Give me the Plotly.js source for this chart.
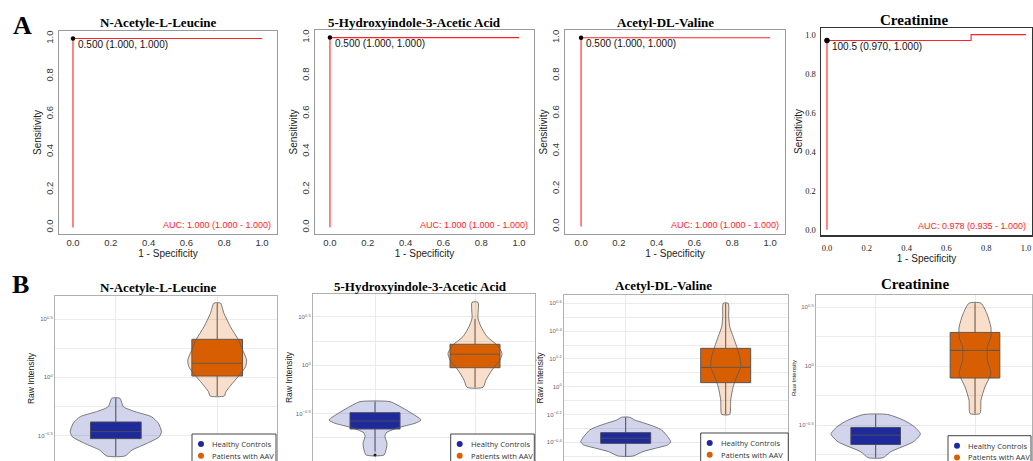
<!DOCTYPE html>
<html><head><meta charset="utf-8">
<script src="https://cdn.plot.ly/plotly-3.0.1.min.js"></script>
<style>html,body{margin:0;padding:0;background:#fff;overflow:hidden}#chart{width:1033px;height:461px}</style>
</head><body><div id="chart"></div>
<script>
// ---------------- DATA ----------------
const metabolites = ['N-Acetyle-L-Leucine', '5-Hydroxyindole-3-Acetic Acid', 'Acetyl-DL-Valine', 'Creatinine'];
const groups = ['Healthy Controls', 'Patients with AAV'];

// ROC curves (x = 1 - Specificity, y = Sensitivity)
const rocFpr = [[0, 0, 1], [0, 0, 1], [0, 0, 1], [0, 0, 0.724, 0.724, 1]];
const rocTpr = [[0, 1, 1], [0, 1, 1], [0, 1, 1], [0, 0.97, 0.97, 1, 1]];
const bestFpr = [0, 0, 0, 0];
const bestTpr = [1, 1, 1, 0.97];
const bestLabels = ['0.500 (1.000, 1.000)', '0.500 (1.000, 1.000)', '0.500 (1.000, 1.000)', '100.5 (0.970, 1.000)'];
const aucLabels = ['AUC: 1.000 (1.000 - 1.000)', 'AUC: 1.000 (1.000 - 1.000)', 'AUC: 1.000 (1.000 - 1.000)', 'AUC: 0.978 (0.935 - 1.000)'];
const rocTicks = [0, 0.2, 0.4, 0.6, 0.8, 1.0];
const rocTickText = ['0.0', '0.2', '0.4', '0.6', '0.8', '1.0'];

// Violin outlines: log10(raw intensity) levels and density half-widths
const hcLevels = [
  [-0.180, -0.253, -0.295, -0.338, -0.395, -0.467, -0.510, -0.567, -0.625, -0.676],
  [-0.376, -0.420, -0.480, -0.566, -0.600, -0.635, -0.669, -0.700, -0.738, -0.807, -0.876, -0.928],
  [-0.220, -0.240, -0.263, -0.288, -0.312, -0.360, -0.396, -0.419, -0.443, -0.468, -0.499],
  [-0.408, -0.456, -0.512, -0.574, -0.639, -0.724, -0.774]
];
const hcWidths = [
  [0.04, 0.075, 0.19, 0.35, 0.42, 0.45, 0.43, 0.31, 0.16, 0.09],
  [0.15, 0.24, 0.34, 0.46, 0.40, 0.27, 0.17, 0.11, 0.10, 0.12, 0.11, 0.09],
  [0.04, 0.09, 0.19, 0.29, 0.36, 0.42, 0.45, 0.42, 0.30, 0.17, 0.075],
  [0.12, 0.28, 0.39, 0.45, 0.38, 0.15, 0.075]
];
const paLevels = [
  [0.636, 0.550, 0.435, 0.320, 0.235, 0.149, 0.091, 0.020, -0.052, -0.124, -0.161],
  [0.651, 0.486, 0.399, 0.296, 0.210, 0.124, 0.055, -0.049, -0.152, -0.228],
  [0.600, 0.504, 0.432, 0.360, 0.288, 0.216, 0.144, 0.072, 0.000, -0.096, -0.199],
  [0.535, 0.445, 0.332, 0.248, 0.163, 0.051, -0.062, -0.175, -0.287, -0.400]
];
const paWidths = [
  [0.033, 0.066, 0.13, 0.21, 0.25, 0.29, 0.28, 0.22, 0.15, 0.086, 0.07],
  [0.03, 0.03, 0.06, 0.12, 0.22, 0.27, 0.25, 0.17, 0.11, 0.08],
  [0.025, 0.03, 0.04, 0.075, 0.11, 0.14, 0.15, 0.11, 0.075, 0.05, 0.04],
  [0.06, 0.12, 0.16, 0.16, 0.125, 0.125, 0.16, 0.10, 0.06, 0.05]
];

// Box statistics (log10 raw intensity)
const hcQ1 = [-0.527, -0.659, -0.408, -0.662];
const hcMedian = [-0.467, -0.576, -0.371, -0.583];
const hcQ3 = [-0.384, -0.490, -0.331, -0.518];
const hcLow = [-0.676, -0.893, -0.499, -0.774];
const hcHigh = [-0.180, -0.376, -0.220, -0.408];
const hcOutliers = [[], [-0.928], [], []];
const paQ1 = [0.011, -0.025, 0.029, -0.099];
const paMedian = [0.120, 0.114, 0.139, 0.135];
const paQ3 = [0.326, 0.217, 0.276, 0.287];
const paLow = [-0.161, -0.228, -0.199, -0.400];
const paHigh = [0.636, 0.479, 0.600, 0.535];

// Violin y-axis ticks (log10 exponents) and minor grid positions
const vTickVals = [
  [-0.5, 0, 0.5],
  [-1, -0.5, 0, 0.5],
  [-0.4, -0.2, 0, 0.2, 0.4, 0.6],
  [-0.5, 0, 0.5]
];
const vTickText = [
  ['10<sup>−0.5</sup>', '10<sup>0</sup>', '10<sup>0.5</sup>'],
  ['10<sup>−1</sup>', '10<sup>−0.5</sup>', '10<sup>0</sup>', '10<sup>0.5</sup>'],
  ['10<sup>−0.4</sup>', '10<sup>−0.2</sup>', '10<sup>0</sup>', '10<sup>0.2</sup>', '10<sup>0.4</sup>', '10<sup>0.6</sup>'],
  ['10<sup>−0.5</sup>', '10<sup>0</sup>', '10<sup>0.5</sup>']
];
const vMinorVals = [
  [-0.75, -0.25, 0.25],
  [-0.75, -0.25, 0.25],
  [-0.5, -0.3, -0.1, 0.1, 0.3, 0.5],
  [-0.75, -0.25, 0.25]
];

// ---------------- STYLE / LAYOUT ----------------
const W = 1033, H = 461;
const SANS = 'Liberation Sans, Arial, sans-serif';
const SERIF = 'Liberation Serif, Times New Roman, serif';
const hcColor = '#1f2a9a', paColor = '#d95f02';
const hcFill = 'rgba(31,42,154,0.2)', paFill = 'rgba(217,95,2,0.2)';
const rocRed = '#ff2424';
const fx = p => p / W, fy = p => 1 - p / H;

const rocBox = [[59, 277, 31, 234], [315, 534, 30, 234], [565, 785, 30, 234], [821, 1032, 28, 235]];
const rocXR = [[-0.074, 1.079], [-0.079, 1.079], [-0.085, 1.079], [-0.03, 1.03]];
const rocYR = [[-0.035, 1.04], [-0.035, 1.04], [-0.04, 1.041], [-0.027, 1.034]];
const vBox = [[55, 277, 296], [313, 535, 294], [564, 788, 295], [816, 1032, 295]];
const vXR = [[-0.6, 1.59], [-0.62, 1.6], [-0.617, 1.623], [-0.601, 1.574]];
const vYR = [[-0.719, 0.698], [-0.990, 0.737], [-0.535, 0.660], [-0.802, 0.604]];
const legBox = [[192, 276, 434], [450.7, 534.3, 434], [700.7, 788.3, 433], [948, 1031, 435.7]];
const titleA = [[157.5, 22.7], [414, 22], [665.5, 22], [913.7, 20]];
const titleB = [[157.7, 287.7], [420, 286], [663, 285.7], [914.5, 284]];

const traces = [];
const layout = {
  width: W, height: H,
  margin: {l: 0, r: 0, t: 0, b: 0},
  paper_bgcolor: '#fff', plot_bgcolor: '#fff',
  showlegend: false,
  annotations: [], shapes: []
};

function outline(levels, widths) {
  const xs = [], ys = [];
  for (let k = 0; k < levels.length; k++) { xs.push(widths[k]); ys.push(levels[k]); }
  for (let k = levels.length - 1; k >= 0; k--) { xs.push(-widths[k]); ys.push(levels[k]); }
  xs.push(widths[0]); ys.push(levels[0]);
  return {xs, ys};
}

for (let i = 0; i < 4; i++) {
  // ---- ROC panel ----
  const n = i + 1, sx = n === 1 ? '' : String(n);
  const xa = 'x' + sx, ya = 'y' + sx;
  const b = rocBox[i];
  const last = i === 3;
  traces.push({x: rocFpr[i], y: rocTpr[i], xaxis: xa, yaxis: ya, mode: 'lines',
    line: {color: rocRed, width: 1.1}, hoverinfo: 'skip', showlegend: false});
  traces.push({x: [bestFpr[i]], y: [bestTpr[i]], xaxis: xa, yaxis: ya, mode: 'markers',
    marker: {color: '#000', size: last ? 5.5 : 4.5}, hoverinfo: 'skip', showlegend: false});
  const tickFont = last ? {family: SERIF, size: 8.5, color: '#222'} : {family: SANS, size: 9.5, color: '#333'};
  const lineCol = last ? '#333' : '#9a9a9a';
  layout['xaxis' + sx] = {
    domain: [fx(b[0]), fx(b[1])], anchor: ya, range: rocXR[i],
    tickmode: 'array', tickvals: rocTicks, ticktext: rocTickText, ticks: '',
    showgrid: false, zeroline: false, showline: true, mirror: true,
    linecolor: lineCol, linewidth: last ? 1.5 : 1, tickfont: tickFont, automargin: false,
    ticklabelstandoff: last ? 4 : 0,
    title: {text: '1 - Specificity', font: {family: SANS, size: 10, color: '#222'}, standoff: 0}
  };
  layout['yaxis' + sx] = {
    domain: [fy(b[3]), fy(b[2])], anchor: xa, range: rocYR[i],
    tickmode: 'array', tickvals: rocTicks, ticktext: rocTickText, ticks: '',
    tickangle: last ? 0 : -90,
    showgrid: false, zeroline: false, showline: true, mirror: true,
    linecolor: lineCol, linewidth: last ? 1.5 : 1, tickfont: tickFont, automargin: false,
    ticklabelstandoff: last ? 2 : 1,
    title: {text: 'Sensitivity', font: {family: SANS, size: 10, color: '#222'}, standoff: 0}
  };
  layout.annotations.push({xref: xa, yref: ya, x: bestFpr[i], y: bestTpr[i], text: bestLabels[i],
    showarrow: false, xanchor: 'left', yanchor: 'middle', xshift: 3, yshift: -6,
    font: {family: SANS, size: 10, color: '#111'}});
  layout.annotations.push({xref: xa + ' domain', yref: ya + ' domain', x: 0.982, y: 0.044,
    text: aucLabels[i], showarrow: false, xanchor: 'right', yanchor: 'middle',
    font: {family: SANS, size: 9, color: rocRed}});
  layout.annotations.push({xref: 'paper', yref: 'paper', x: fx(titleA[i][0]), y: fy(titleA[i][1]),
    text: '<b>' + metabolites[i] + '</b>', showarrow: false, xanchor: 'center', yanchor: 'middle',
    font: {family: SERIF, size: last ? 15 : 13, color: '#000'}});

  // ---- Violin panel ----
  const m = i + 5, vx = 'x' + m, vy = 'y' + m;
  const vb = vBox[i];
  traces.push({type: 'box', x: [0], q1: [hcQ1[i]], median: [hcMedian[i]], q3: [hcQ3[i]],
    lowerfence: [hcLow[i]], upperfence: [hcHigh[i]], width: 0.5, whiskerwidth: 0,
    fillcolor: hcColor, line: {color: '#555', width: 1}, boxpoints: false,
    name: groups[0], xaxis: vx, yaxis: vy, hoverinfo: 'skip', showlegend: false});
  traces.push({type: 'box', x: [1], q1: [paQ1[i]], median: [paMedian[i]], q3: [paQ3[i]],
    lowerfence: [paLow[i]], upperfence: [paHigh[i]], width: 0.5, whiskerwidth: 0,
    fillcolor: paColor, line: {color: '#555', width: 1}, boxpoints: false,
    name: groups[1], xaxis: vx, yaxis: vy, hoverinfo: 'skip', showlegend: false});
  const oh = outline(hcLevels[i], hcWidths[i]);
  traces.push({x: oh.xs.map(v => 0 + v), y: oh.ys, mode: 'lines', fill: 'toself', fillcolor: hcFill,
    line: {color: '#5a5a5a', width: 0.8, shape: 'spline', smoothing: 0.6},
    xaxis: vx, yaxis: vy, hoverinfo: 'skip', showlegend: false, name: groups[0]});
  const op = outline(paLevels[i], paWidths[i]);
  traces.push({x: op.xs.map(v => 1 + v), y: op.ys, mode: 'lines', fill: 'toself', fillcolor: paFill,
    line: {color: '#5a5a5a', width: 0.8, shape: 'spline', smoothing: 0.6},
    xaxis: vx, yaxis: vy, hoverinfo: 'skip', showlegend: false, name: groups[1]});
  if (hcOutliers[i].length) {
    traces.push({x: hcOutliers[i].map(() => 0), y: hcOutliers[i], mode: 'markers',
      marker: {color: '#222', size: 3}, xaxis: vx, yaxis: vy, hoverinfo: 'skip', showlegend: false});
  }
  layout['xaxis' + m] = {
    domain: [fx(vb[0]), fx(vb[1])], anchor: vy, range: vXR[i],
    tickmode: 'array', tickvals: [0, 1], showticklabels: false, ticks: '',
    showgrid: true, gridcolor: '#ebebeb', zeroline: false,
    showline: true, mirror: true, linecolor: '#b0b0b0', automargin: false
  };
  layout['yaxis' + m] = {
    domain: [0, fy(vb[2])], anchor: vx, range: vYR[i],
    tickmode: 'array', tickvals: vTickVals[i], ticktext: vTickText[i], ticks: '',
    showgrid: true, gridcolor: '#ebebeb', zeroline: false,
    minor: {tickmode: 'array', tickvals: vMinorVals[i], showgrid: true, gridcolor: '#ebebeb', ticks: ''},
    showline: true, mirror: true, linecolor: '#b0b0b0', automargin: false,
    tickfont: {family: SANS, size: 6, color: '#666'},
    title: {text: 'Raw Intensity', font: {family: SANS, size: i === 3 ? 6 : 8.5, color: '#222'}, standoff: 1}
  };
  layout.annotations.push({xref: 'paper', yref: 'paper', x: fx(titleB[i][0]), y: fy(titleB[i][1]),
    text: '<b>' + metabolites[i] + '</b>', showarrow: false, xanchor: 'center', yanchor: 'middle',
    font: {family: SERIF, size: i === 3 ? 15 : 13, color: '#000'}});
  // legend box
  const lb = legBox[i];
  layout.shapes.push({type: 'rect', xref: 'paper', yref: 'paper', x0: fx(lb[0]), x1: fx(lb[1]),
    y0: -0.05, y1: fy(lb[2]), line: {color: '#444', width: 1}, fillcolor: '#fff', layer: 'above'});
  [hcColor, paColor].forEach((c, g) => {
    const cy = lb[2] + 10 + g * 11.7, cx = lb[0] + 9;
    layout.shapes.push({type: 'circle', xref: 'paper', yref: 'paper',
      x0: fx(cx - 3), x1: fx(cx + 3), y0: fy(cy + 3), y1: fy(cy - 3),
      line: {width: 0}, fillcolor: c, layer: 'above'});
    layout.annotations.push({xref: 'paper', yref: 'paper', x: fx(lb[0] + 18), y: fy(cy),
      text: groups[g], showarrow: false, xanchor: 'left', yanchor: 'middle',
      font: {family: 'Open Sans, sans-serif', size: 7.6, color: '#333'}});
  });
}

// panel letters
layout.annotations.push({xref: 'paper', yref: 'paper', x: fx(22), y: fy(25), text: '<b>A</b>',
  showarrow: false, xanchor: 'center', yanchor: 'middle', font: {family: SERIF, size: 26, color: '#000'}});
layout.annotations.push({xref: 'paper', yref: 'paper', x: fx(20), y: fy(284), text: '<b>B</b>',
  showarrow: false, xanchor: 'center', yanchor: 'middle', font: {family: SERIF, size: 26, color: '#000'}});

Plotly.newPlot('chart', traces, layout, {displayModeBar: false, staticPlot: true});
</script>
</body></html>
